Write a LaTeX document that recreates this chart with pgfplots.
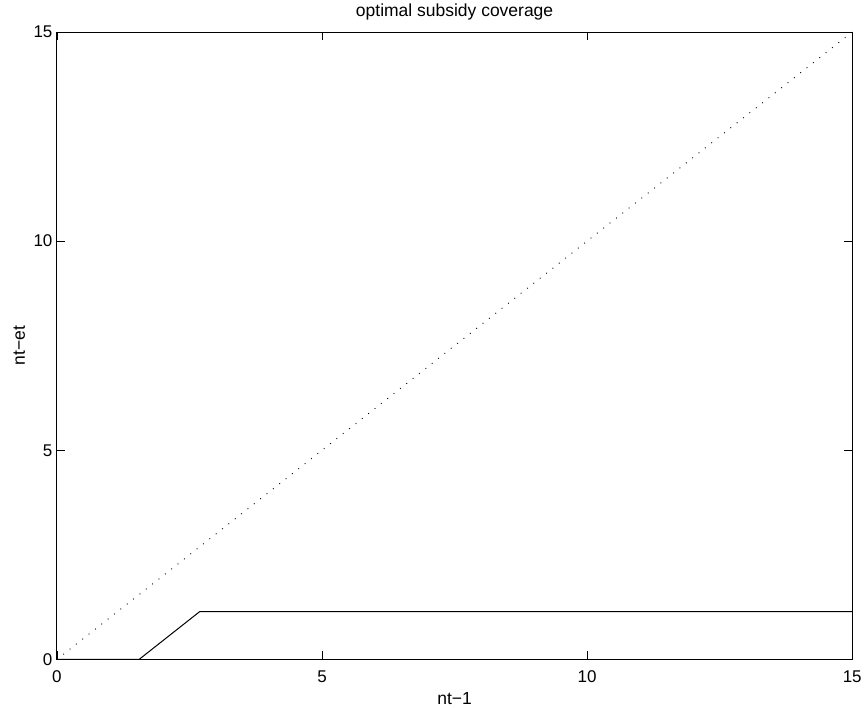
\documentclass[border=0pt]{standalone}
\usepackage{fontspec}
\setmainfont{Liberation Sans}
\usepackage{pgfplots}
\pgfplotsset{compat=1.18}
\begin{document}
\begin{tikzpicture}[x=1pt,y=1pt]
\begin{axis}[
  at={(0,0)}, anchor=south west,
  width=796pt, height=628pt, scale only axis,
  xmin=0, xmax=15, ymin=0, ymax=15,
  xtick={0,5,10,15}, ytick={0,5,10,15},
  tick align=inside, major tick length=8pt,
  axis line style={line width=0.9pt},
  every tick/.style={black, line width=0.8pt},
  /pgf/number format/assume math mode=true,
  tick label style={font=\fontsize{17}{20}\selectfont},
  xticklabel style={anchor=base, yshift=-23pt},
  yticklabel style={anchor=east, xshift=-1pt},
  title={optimal subsidy coverage},
  title style={font=\fontsize{17.5}{20}\selectfont, at={(axis description cs:0.5,1)}, anchor=base, yshift=9pt},
  xlabel={nt−1},
  xlabel style={font=\fontsize{17.5}{20}\selectfont, at={(axis description cs:0.5,0)}, anchor=base, yshift=-44.7pt},
  ylabel={nt−et},
  ylabel style={font=\fontsize{17.5}{20}\selectfont, at={(axis description cs:0,0.5)}, anchor=base, yshift=32pt},
  clip=false,
]
% coverage policy
\addplot[black, line width=1pt] coordinates {(0,0) (1.55,0) (2.69,1.14) (15,1.14)};
% 45-degree reference line
\addplot[black, line width=0.9pt, dash pattern=on 0.9pt off 7.2pt] coordinates {(0,0) (15,15)};
\end{axis}
\path (-57,-48) (808,660);
\end{tikzpicture}
\end{document}
